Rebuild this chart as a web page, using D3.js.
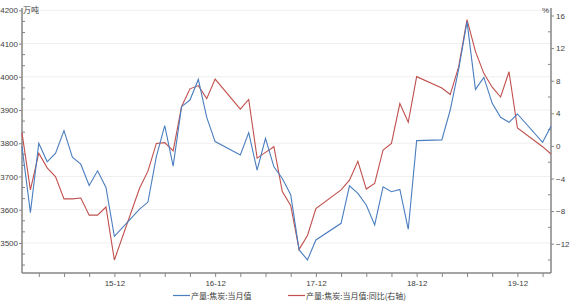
<!DOCTYPE html>
<html><head><meta charset="utf-8">
<script src="https://cdn.jsdelivr.net/npm/d3@7"></script>
<style>
body{margin:0;background:#fff;}
svg{display:block;font-family:"Liberation Sans","Noto Sans CJK SC",sans-serif;}
</style></head>
<body><svg id="c" width="570" height="303"></svg>
<script>
// month labels (missing Jan/Feb are simply absent)
const months = ["2015-01","2015-02","2015-03","2015-04","2015-05","2015-06","2015-07","2015-08","2015-09","2015-10","2015-11","2015-12",
"2016-03","2016-04","2016-05","2016-06","2016-07","2016-08","2016-09","2016-10","2016-11","2016-12",
"2017-03","2017-04","2017-05","2017-06","2017-07","2017-08","2017-09","2017-10","2017-11","2017-12",
"2018-03","2018-04","2018-05","2018-06","2018-07","2018-08","2018-09","2018-10","2018-11","2018-12",
"2019-03","2019-04","2019-05","2019-06","2019-07","2019-08","2019-09","2019-10","2019-11","2019-12",
"2020-03","2020-04"];
const output = [3790,3591,3800,3744,3770,3838,3758,3737,3673,3717,3667,3520,
3602,3623,3760,3853,3731,3910,3930,3992,3878,3805,
3765,3832,3719,3815,3729,3694,3645,3479,3449,3509,
3559,3672,3649,3614,3554,3669,3654,3661,3541,3808,
3810,3900,4022,4166,3962,3998,3920,3878,3863,3888,
3803,3851];
const yoy = [1.6,-5.4,-0.9,-2.7,-3.8,-6.5,-6.5,-6.4,-8.5,-8.5,-7.5,-14.0,
-5.2,-3.1,0.3,0.4,-0.6,4.8,7.0,7.4,5.8,8.2,
4.5,5.7,-1.5,-0.8,-0.1,-5.6,-7.3,-12.7,-11.0,-7.7,
-5.4,-4.2,-1.9,-5.3,-4.6,-0.5,0.3,5.2,2.9,8.5,
7.1,6.3,9.7,15.5,11.6,8.9,7.2,6.0,9.1,2.2,
-0.1,-1.0];
const leftTicks = [3500,3600,3700,3800,3900,4000,4100,4200];
const rightTicks = [-12,-8,-4,0,4,8,12,16];
const xTickLabels = ["15-12","16-12","17-12","18-12","19-12"];
const seriesNames = ["产量:焦炭:当月值","产量:焦炭:当月值:同比(右轴)"];

const svg = d3.select("#c");
const L = 22, R = 551, T = 9, B = 273;
const idx = s => { const [y,m] = s.split("-").map(Number); return (y-2015)*12 + (m-1); };
const x = d3.scaleLinear().domain([0,63]).range([L,R]);
const yL = d3.scaleLinear().domain([3409.5,4204]).range([B,T]);
const yR = d3.scaleLinear().domain([-15.6,16.8]).range([B,T]);
const axisColor = "#868686", textColor = "#404040";
const numFont = "'Liberation Sans',Arial,sans-serif";

// gridlines
svg.append("g").selectAll("line").data(leftTicks).join("line")
  .attr("x1",L).attr("x2",R).attr("y1",d=>yL(d)).attr("y2",d=>yL(d))
  .attr("stroke","#efefef").attr("stroke-width",1);

// left axis
const gl = svg.append("g").attr("transform",`translate(${L},0)`)
  .call(d3.axisLeft(yL).tickValues(leftTicks).tickFormat(d3.format("d")).tickSize(3).tickPadding(1));
const minorL = d3.range(3433.33,4200,33.333).filter(v=>!leftTicks.some(t=>Math.abs(t-v)<1));
svg.append("g").selectAll("line").data(minorL).join("line")
  .attr("x1",L).attr("x2",L+3).attr("y1",d=>yL(d)).attr("y2",d=>yL(d)).attr("stroke",axisColor);

// right axis
const gr = svg.append("g").attr("transform",`translate(${R},0)`)
  .call(d3.axisRight(yR).tickValues(rightTicks).tickFormat(d3.format("d")).tickSize(3).tickPadding(2));
const minorR = [-14,-10,-6,-2,2,6,10,14];
svg.append("g").selectAll("line").data(minorR).join("line")
  .attr("x1",R-3).attr("x2",R).attr("y1",d=>yR(d)).attr("y2",d=>yR(d)).attr("stroke",axisColor);

// bottom axis
const qTicks = d3.range(2,64,3);
const gb = svg.append("g").attr("transform",`translate(0,${B})`)
  .call(d3.axisBottom(x).tickValues(qTicks).tickSize(4).tickPadding(3)
    .tickFormat(d => { const y = 2015 + Math.floor(d/12), m = d%12+1;
      const s = String(y).slice(2)+"-"+String(m).padStart(2,"0");
      return xTickLabels.includes(s) ? s : ""; }));

[gl,gr,gb].forEach(g=>{
  g.select(".domain").attr("stroke",axisColor).attr("stroke-width",1.5);
  g.selectAll(".tick line").attr("stroke",axisColor);
  g.selectAll("text").attr("fill",textColor).style("font-size","8px").style("font-family",numFont);
});
gl.select(".domain").attr("d",`M0,${B}V${T-1}`);
gr.select(".domain").attr("d",`M0,${B}V${T-1}`);
gb.select(".domain").attr("d",`M${L},0H${R}`);

// units
svg.append("text").attr("x",L+1).attr("y",T+4).attr("fill",textColor)
  .style("font-size","8px").style("font-family","'Noto Sans CJK SC'").text("万吨");
svg.append("text").attr("x",R-2).attr("y",T+4).attr("text-anchor","end").attr("fill",textColor)
  .style("font-size","8px").style("font-family",numFont).text("%");

// lines
const blue = "#4a7ebf", red = "#c0504d";
const pts = months.map((m,i)=>({i:idx(m), o:output[i], y:yoy[i]}));
svg.append("path").datum(pts).attr("fill","none").attr("stroke",red).attr("stroke-width",1.1)
  .attr("d", d3.line().x(d=>x(d.i)).y(d=>yR(d.y)));
svg.append("path").datum(pts).attr("fill","none").attr("stroke",blue).attr("stroke-width",1.1)
  .attr("d", d3.line().x(d=>x(d.i)).y(d=>yL(d.o)));

// legend
const lg = svg.append("g").style("font-family","'Noto Sans CJK SC',sans-serif").style("font-size","8px");
[[173,blue,seriesNames[0]],[288,red,seriesNames[1]]].forEach(([lx,c,t])=>{
  lg.append("line").attr("x1",lx).attr("x2",lx+17).attr("y1",295.5).attr("y2",295.5).attr("stroke",c).attr("stroke-width",1.2);
  lg.append("text").attr("x",lx+18).attr("y",298.5).attr("fill",textColor).text(t);
});
</script></body></html>
